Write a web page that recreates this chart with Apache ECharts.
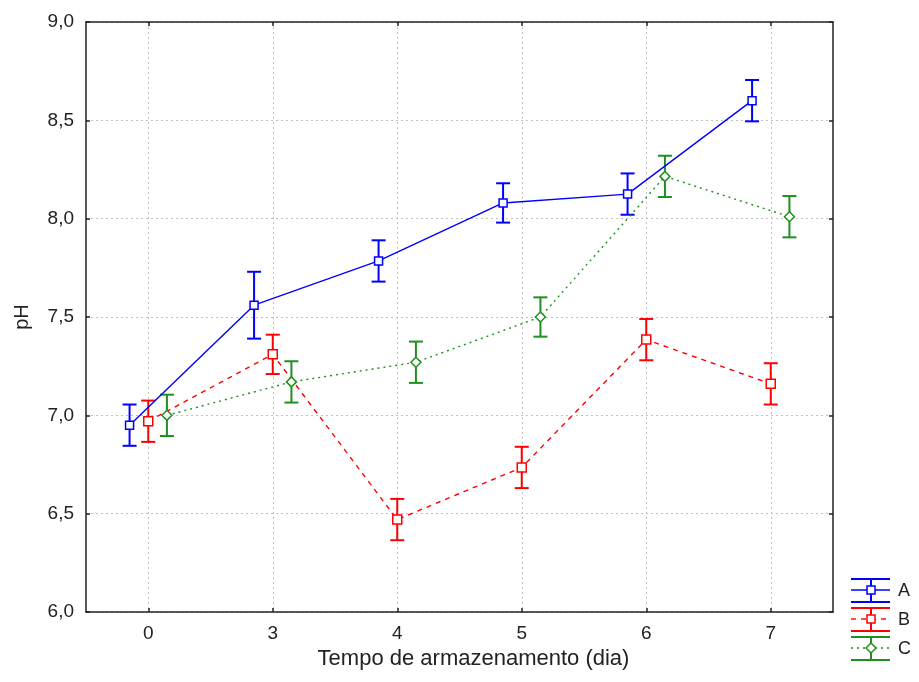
<!DOCTYPE html>
<html>
<head>
<meta charset="utf-8">
<script src="https://cdn.jsdelivr.net/npm/echarts@6/dist/echarts.min.js"></script>
<style>
  html, body { margin: 0; padding: 0; background: #fff; }
  #main { width: 919px; height: 682px; }
</style>
</head>
<body>
<div id="main"></div>
<script>
// dias de armazenamento
var dias = ['0', '3', '4', '5', '6', '7'];

// médias de pH
var mediaA = [6.95, 7.56, 7.785, 8.08, 8.125, 8.60];
var mediaB = [6.97, 7.31, 6.47, 6.735, 7.385, 7.16];
var mediaC = [7.00, 7.17, 7.27, 7.50, 8.215, 8.01];

// meia largura das barras de erro
var erroA = [0.105, 0.17, 0.105, 0.10, 0.105, 0.105];
var erroB = [0.105, 0.10, 0.105, 0.105, 0.105, 0.105];
var erroC = [0.105, 0.105, 0.105, 0.10, 0.105, 0.105];

var chart = echarts.init(document.getElementById('main'));

var series = [
  { name: 'A', media: mediaA, erro: erroA, dx: -0.15, color: '#0000ff', dash: 'solid', symbol: 'rect', size: 8 },
  { name: 'B', media: mediaB, erro: erroB, dx: 0, color: '#ff0000', dash: [5, 5], symbol: 'rect', size: 9 },
  { name: 'C', media: mediaC, erro: erroC, dx: 0.15, color: '#1f8f1f', dash: [2, 4], symbol: 'diamond', size: 10 }
];

var opts = [];
series.forEach(function (s) {
  // barras de erro
  opts.push({
    type: 'custom',
    name: s.name + '_err',
    xAxisIndex: 1,
    z: 2,
    silent: true,
    data: s.media.map(function (m, i) { return [i + s.dx, m - s.erro[i], m + s.erro[i]]; }),
    renderItem: function (params, api) {
      var lo = api.coord([api.value(0), api.value(1)]);
      var hi = api.coord([api.value(0), api.value(2)]);
      var w = 7;
      var st = { stroke: s.color, lineWidth: 2 };
      return {
        type: 'group',
        children: [
          { type: 'line', shape: { x1: lo[0], y1: lo[1], x2: hi[0], y2: hi[1] }, style: st },
          { type: 'line', shape: { x1: hi[0] - w, y1: hi[1], x2: hi[0] + w, y2: hi[1] }, style: st },
          { type: 'line', shape: { x1: lo[0] - w, y1: lo[1], x2: lo[0] + w, y2: lo[1] }, style: st }
        ]
      };
    }
  });
  // linhas e marcadores
  opts.push({
    type: 'line',
    name: s.name,
    xAxisIndex: 1,
    z: 3,
    data: s.media.map(function (m, i) { return [i + s.dx, m]; }),
    symbol: s.symbol,
    symbolSize: s.size,
    showAllSymbol: true,
    lineStyle: { color: s.color, width: 1.4, type: s.dash },
    itemStyle: { color: '#fff', borderColor: s.color, borderWidth: 1.5 }
  });
});

// legenda desenhada à mão (ícone com barra de erro)
var legendItems = [];
series.forEach(function (s, k) {
  var yc = 590 + k * 29;
  var st = { stroke: s.color, lineWidth: 2 };
  legendItems.push(
    { type: 'line', shape: { x1: 851, y1: yc - 11, x2: 890, y2: yc - 11 }, style: st },
    { type: 'line', shape: { x1: 851, y1: yc + 12, x2: 890, y2: yc + 12 }, style: st },
    { type: 'line', shape: { x1: 871, y1: yc - 11, x2: 871, y2: yc + 12 }, style: st },
    { type: 'line', shape: { x1: 851, y1: yc, x2: 890, y2: yc }, style: { stroke: s.color, lineWidth: 1.4, lineDash: s.dash === 'solid' ? null : s.dash } },
    s.symbol === 'diamond'
      ? { type: 'polygon', shape: { points: [[871, yc - 5], [876, yc], [871, yc + 5], [866, yc]] }, style: { fill: '#fff', stroke: s.color, lineWidth: 1.5 } }
      : { type: 'rect', shape: { x: 867, y: yc - 4, width: 8, height: 8 }, style: { fill: '#fff', stroke: s.color, lineWidth: 1.5 } },
    { type: 'text', x: 898, y: yc + 1, style: { text: s.name, fill: '#222', font: '18px "Liberation Sans", Arial', verticalAlign: 'middle' } }
  );
});

var option = {
  animation: false,
  backgroundColor: '#fff',
  grid: { left: 86, top: 22, width: 747, height: 590 },
  xAxis: [
    {
      type: 'category',
      data: dias,
      boundaryGap: true,
      name: 'Tempo de armazenamento (dia)',
      nameLocation: 'middle',
      nameGap: 35,
      nameTextStyle: { fontSize: 22, color: '#222', fontFamily: 'Liberation Sans', padding: [0, 0, 0, 28] },
      axisLine: { onZero: false, lineStyle: { color: '#222', width: 1.5 } },
      axisTick: { show: true, inside: true, length: 4, alignWithLabel: true, lineStyle: { color: '#222', width: 1.5 } },
      axisLabel: { fontSize: 19, color: '#222', margin: 12, fontFamily: 'Liberation Sans' },
      splitLine: { show: true, alignWithLabel: true, lineStyle: { color: '#c0c0c0', type: [2, 3] } }
    },
    {
      type: 'value',
      min: -0.5,
      max: 5.5,
      show: false,
      axisLine: { show: false },
      splitLine: { show: false }
    },
    {
      type: 'category',
      data: dias,
      position: 'top',
      axisLine: { show: true, onZero: false, lineStyle: { color: '#222', width: 1.5 } },
      axisTick: { show: true, inside: true, length: 4, alignWithLabel: true, lineStyle: { color: '#222', width: 1.5 } },
      axisLabel: { show: false },
      splitLine: { show: false }
    }
  ],
  yAxis: [
    {
      type: 'value',
      min: 6,
      max: 9,
      interval: 0.5,
      name: 'pH',
      nameLocation: 'middle',
      nameGap: 54,
      nameTextStyle: { fontSize: 20, color: '#222', fontFamily: 'Liberation Sans' },
      axisLine: { show: true, onZero: false, lineStyle: { color: '#222', width: 1.5 } },
      axisTick: { show: true, inside: true, length: 4, lineStyle: { color: '#222', width: 1.5 } },
      axisLabel: {
        fontSize: 19, color: '#222', margin: 12, fontFamily: 'Liberation Sans',
        formatter: function (v) { return v.toFixed(1).replace('.', ','); }
      },
      splitLine: { show: true, lineStyle: { color: '#c0c0c0', type: [2, 3] } }
    },
    {
      type: 'value',
      min: 6,
      max: 9,
      interval: 0.5,
      position: 'right',
      axisLine: { show: true, onZero: false, lineStyle: { color: '#222', width: 1.5 } },
      axisTick: { show: true, inside: true, length: 4, lineStyle: { color: '#222', width: 1.5 } },
      axisLabel: { show: false },
      splitLine: { show: false }
    }
  ],
  series: opts,
  graphic: legendItems
};

chart.setOption(option);
</script>
</body>
</html>
